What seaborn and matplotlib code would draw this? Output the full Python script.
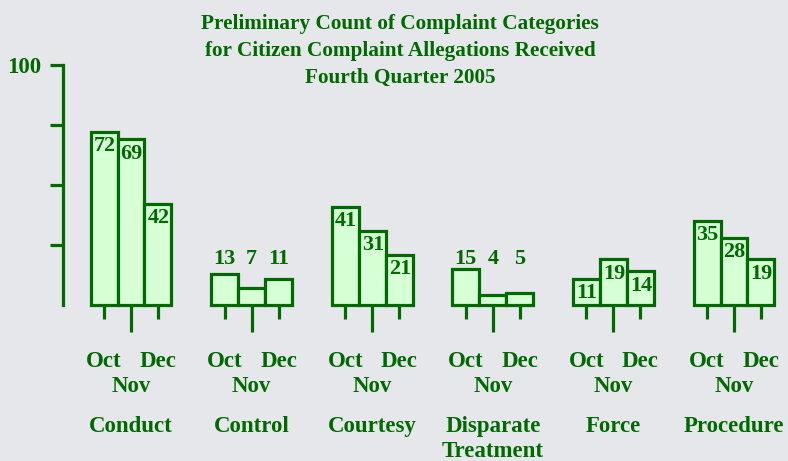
import matplotlib
matplotlib.use("Agg")
import matplotlib.pyplot as plt
import matplotlib.transforms as mtransforms
import seaborn as sns
import pandas as pd

categories = ["Conduct", "Control", "Courtesy", "Disparate\nTreatment", "Force", "Procedure"]
months = ["Oct", "Nov", "Dec"]
oct_vals = [72, 13, 41, 15, 11, 35]
nov_vals = [69, 7, 31, 4, 19, 28]
dec_vals = [42, 11, 21, 5, 14, 19]
label_above = [False, True, False, True, False, False]
yticks = [25, 50, 75, 100]
ytick_labels = ["", "", "", "100"]
title = "Preliminary Count of Complaint Categories\nfor Citizen Complaint Allegations Received\nFourth Quarter 2005"

GREEN = "#006a00"
FILL = "#d6ffd6"
BG = "#e6e7ea"
FS = 16.5

rows = []
for i, c in enumerate(categories):
    for m, vals in zip(months, [oct_vals, nov_vals, dec_vals]):
        rows.append({"cat": c, "month": m, "value": vals[i]})
df = pd.DataFrame(rows)

sns.set_theme(style="white")
plt.rcParams["font.family"] = ["Liberation Serif", "DejaVu Serif"]
plt.rcParams["font.weight"] = "bold"

W, H = 788, 461
fig = plt.figure(figsize=(W / 100, H / 100), dpi=100, facecolor=BG)
ax = fig.add_axes([63 / W, (H - 305) / H, (W - 63) / W, 240 / H])
ax.set_facecolor(BG)

bw = 0.67
sns.barplot(data=df, x="cat", y="value", hue="month", order=categories,
            hue_order=months, palette=[FILL] * 3, width=bw, gap=0,
            edgecolor=GREEN, linewidth=2.3, legend=False, ax=ax,
            saturation=1, clip_on=False)

ax.set_ylim(0, 100)
ax.set_xlim(-0.564, 5.448)
for s in ["top", "right", "bottom"]:
    ax.spines[s].set_visible(False)
ax.spines["left"].set_color(GREEN)
ax.spines["left"].set_linewidth(2.3)
ax.set_yticks(yticks)
ax.set_yticklabels(ytick_labels)
ax.tick_params(axis="y", direction="out", length=9.5, width=2.3, color=GREEN,
               labelcolor=GREEN, labelsize=FS, pad=6, left=True)
for t in ax.get_yticklabels():
    t.set_fontweight("bold")
ax.set_xlabel("")
ax.set_ylabel("")

step = bw / 3
nov_pos = list(range(len(categories)))
side_pos = [i + d for i in nov_pos for d in (-step, step)]
ax.set_xticks(nov_pos)
ax.set_xticks(side_pos, minor=True)
ax.set_xticklabels([])
ax.tick_params(axis="x", which="major", direction="out", length=19.5, width=2.3,
               color=GREEN, bottom=True, pad=0)
ax.tick_params(axis="x", which="minor", direction="out", length=10, width=2.3,
               color=GREEN, bottom=True)

# value labels
for i in range(len(categories)):
    for k, vals in enumerate([oct_vals, nov_vals, dec_vals]):
        x = i + (k - 1) * step
        v = vals[i]
        if label_above[i]:
            ax.text(x, 19, str(v), ha="center", va="center", color=GREEN,
                    fontsize=16, fontweight="bold")
        else:
            ax.annotate(str(v), (x, v), xytext=(0.5, -3), textcoords="offset points",
                        ha="center", va="top", color=GREEN, fontsize=16,
                        fontweight="bold")

trans = mtransforms.blended_transform_factory(ax.transData, ax.transAxes)
for i, c in enumerate(categories):
    ax.text(i - step, -0.236, "Oct", transform=trans, ha="center", va="center",
            color=GREEN, fontsize=FS, fontweight="bold")
    ax.text(i + step, -0.236, "Dec", transform=trans, ha="center", va="center",
            color=GREEN, fontsize=FS, fontweight="bold")
    ax.text(i, -0.34, "Nov", transform=trans, ha="center", va="center",
            color=GREEN, fontsize=FS, fontweight="bold")
    for j, line in enumerate(c.split("\n")):
        ax.text(i, -0.508 - j * 0.103, line, transform=trans, ha="center", va="center",
                color=GREEN, fontsize=FS, fontweight="bold")

fig.text(400 / W, 1 - 14 / H, title, ha="center", va="top", color=GREEN,
         fontsize=15.3, fontweight="bold", linespacing=1.46)

fig.savefig("out.png", dpi=100, facecolor=BG)
